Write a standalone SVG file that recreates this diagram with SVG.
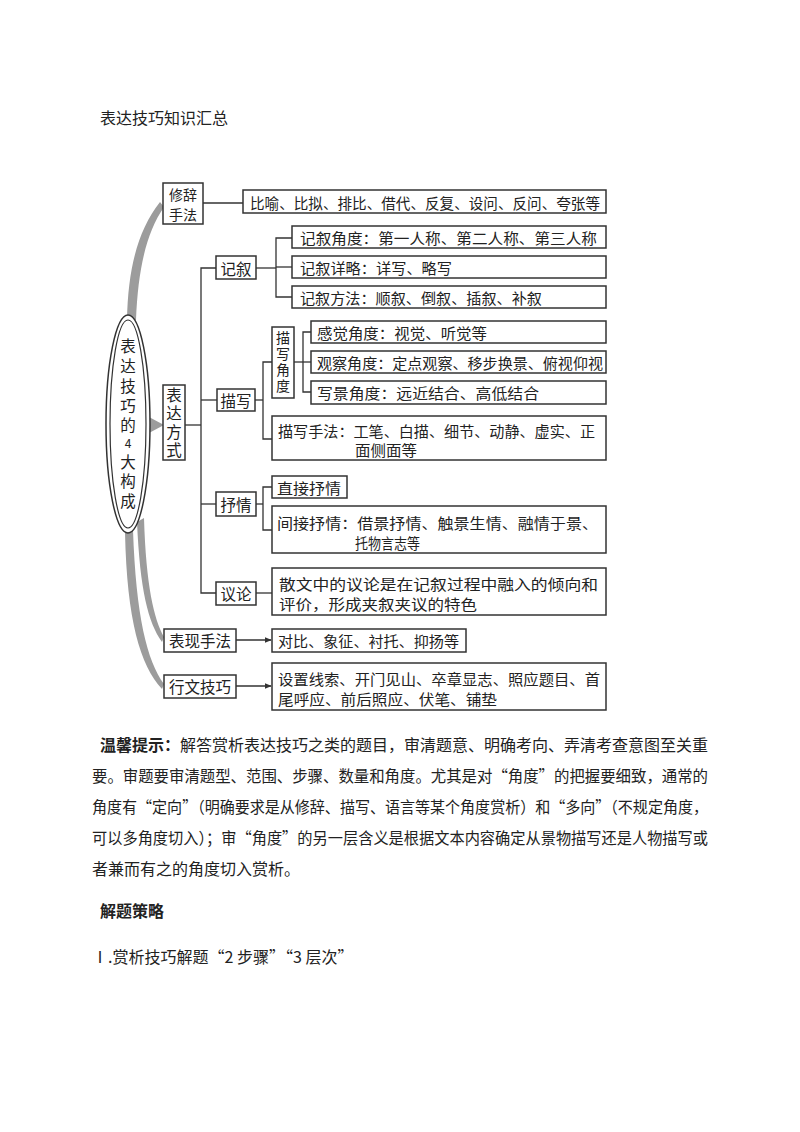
<svg xmlns="http://www.w3.org/2000/svg" width="800" height="1132" viewBox="0 0 800 1132">
<defs>
<style>
text{font-family:"Noto Sans CJK SC","Liberation Serif",serif;fill:#222;}
.t{font-size:14.5px;dominant-baseline:central;}
.lb{font-size:15.5px;dominant-baseline:central;text-anchor:middle;}
.vt{font-size:14px;writing-mode:vertical-rl;text-anchor:middle;letter-spacing:2px;}
.vt2{font-size:15.5px;writing-mode:vertical-rl;text-anchor:middle;letter-spacing:3px;}
.vt3{font-size:15.5px;writing-mode:vertical-rl;text-orientation:upright;text-anchor:middle;letter-spacing:4.3px;}
.box{fill:#fff;stroke:#333;stroke-width:1.5;}
.ln{fill:none;stroke:#333;stroke-width:1.3;}
.gray{fill:#9c9c9c;stroke:none;}
.p{font-size:16px;}
.b{font-weight:bold;}
</style>
<marker id="ah" viewBox="0 0 10 10" refX="9" refY="5" markerWidth="7" markerHeight="7" orient="auto" markerUnits="userSpaceOnUse">
<path d="M0,1 L10,5 L0,9 Z" fill="#333"/>
</marker>
</defs>
<rect width="800" height="1132" fill="#fff"/>
<text class="p" x="100" y="124">表达技巧知识汇总</text>

<g id="branches-gray">
<path class="gray" d="M127 320 C128 268 138 230 160 202 L164 207 C146 233 138 270 136 320 Z"/>
<path class="gray" d="M137 522 C140 590 148 622 162 642 L164 637 C154 619 146 586 144 518 Z"/>
<path class="gray" d="M125 533 C127 620 140 665 162 689 L164 684 C147 661 136 616 133 530 Z"/>
<path class="gray" d="M149 417 L164 425 L149 433 Z"/>
</g>

<g id="connectors">
<path class="ln" d="M203 203 H243"/>
<path class="ln" d="M185 425 H201"/>
<path class="ln" d="M216 268 H201 V593 H216"/>
<path class="ln" d="M201 400 H217"/>
<path class="ln" d="M201 504 H216"/>
<path class="ln" d="M256 268 H276"/>
<path class="ln" d="M292 238 H276 V297 H292"/>
<path class="ln" d="M276 267 H292"/>
<path class="ln" d="M255 400 H263"/>
<path class="ln" d="M272 362 H263 V439 H272"/>
<path class="ln" d="M294 362 H311"/>
<path class="ln" d="M311 332 H303 V392 H311"/>
<path class="ln" d="M256 504 H263"/>
<path class="ln" d="M272 487 H263 V530 H272"/>
<path class="ln" d="M256 593 H272"/>
<path class="ln" d="M236 640 H271" marker-end="url(#ah)"/>
<path class="ln" d="M236 686 H271" marker-end="url(#ah)"/>
</g>

<g id="core">
<ellipse cx="128" cy="424" rx="22" ry="109" fill="#fff" stroke="#333" stroke-width="1.5"/>
<ellipse cx="128" cy="424" rx="18" ry="104" fill="none" stroke="#333" stroke-width="1.2"/>
<text class="vt3" x="128" y="426">表达技巧的<tspan style="font-size:12px">4</tspan>大构成</text>
</g>

<g id="xiuci">
<rect class="box" x="163" y="183" width="40" height="41"/>
<text class="lb" x="183" y="193.5" style="font-size:14px">修辞</text>
<text class="lb" x="183" y="214" style="font-size:14px">手法</text>
</g>
<g id="xiuci-list">
<rect class="box" x="243" y="190" width="363" height="23"/>
<text class="t" x="250" y="202" textLength="350" lengthAdjust="spacingAndGlyphs">比喻、比拟、排比、借代、反复、设问、反问、夸张等</text>
</g>

<g id="biaodafangshi">
<rect class="box" x="163" y="385" width="22" height="75"/>
<text class="vt2" x="174" y="424">表达方式</text>
</g>

<g id="jixu">
<rect class="box" x="216" y="256" width="40" height="23"/>
<text class="lb" x="236" y="268">记叙</text>
</g>
<g id="jixu-jiaodu">
<rect class="box" x="292" y="226" width="314" height="22"/>
<text class="t" x="300" y="237" textLength="297" lengthAdjust="spacingAndGlyphs">记叙角度：第一人称、第二人称、第三人称</text>
</g>
<g id="jixu-xianglue">
<rect class="box" x="292" y="256" width="314" height="22"/>
<text class="t" x="300" y="267" textLength="152" lengthAdjust="spacingAndGlyphs">记叙详略：详写、略写</text>
</g>
<g id="jixu-fangfa">
<rect class="box" x="292" y="286" width="314" height="22"/>
<text class="t" x="300" y="297" textLength="242" lengthAdjust="spacingAndGlyphs">记叙方法：顺叙、倒叙、插叙、补叙</text>
</g>

<g id="miaoxie">
<rect class="box" x="217" y="389" width="38" height="22"/>
<text class="lb" x="236" y="400">描写</text>
</g>
<g id="miaoxie-jiaodu">
<rect class="box" x="272" y="327" width="22" height="71"/>
<text class="vt" x="283" y="363">描写角度</text>
</g>
<g id="ganjue">
<rect class="box" x="311" y="321" width="295" height="22"/>
<text class="t" x="317" y="332" textLength="170" lengthAdjust="spacingAndGlyphs">感觉角度：视觉、听觉等</text>
</g>
<g id="guancha">
<rect class="box" x="311" y="351" width="295" height="22"/>
<text class="t" x="317" y="362" textLength="286" lengthAdjust="spacingAndGlyphs">观察角度：定点观察、移步换景、俯视仰视</text>
</g>
<g id="xiejing">
<rect class="box" x="311" y="381" width="295" height="23"/>
<text class="t" x="317" y="392" textLength="222" lengthAdjust="spacingAndGlyphs">写景角度：远近结合、高低结合</text>
</g>
<g id="miaoxie-shoufa">
<rect class="box" x="272" y="416" width="334" height="44"/>
<text class="t" x="278" y="430" textLength="317" lengthAdjust="spacingAndGlyphs">描写手法：工笔、白描、细节、动静、虚实、正</text>
<text class="t" x="355" y="449" textLength="62" lengthAdjust="spacingAndGlyphs">面侧面等</text>
</g>

<g id="shuqing">
<rect class="box" x="216" y="492" width="40" height="24"/>
<text class="lb" x="236" y="504">抒情</text>
</g>
<g id="zhijie">
<rect class="box" x="272" y="476" width="75" height="22"/>
<text class="t" x="277" y="487" textLength="64" lengthAdjust="spacingAndGlyphs">直接抒情</text>
</g>
<g id="jianjie">
<rect class="box" x="272" y="506" width="334" height="47"/>
<text class="t" x="277" y="522" textLength="321" lengthAdjust="spacingAndGlyphs">间接抒情：借景抒情、触景生情、融情于景、</text>
<text class="t" x="355" y="542" textLength="65" lengthAdjust="spacingAndGlyphs">托物言志等</text>
</g>

<g id="yilun">
<rect class="box" x="216" y="582" width="40" height="23"/>
<text class="lb" x="236" y="593">议论</text>
</g>
<g id="yilun-desc">
<rect class="box" x="272" y="568" width="334" height="47"/>
<text class="t" x="279" y="583" textLength="319" lengthAdjust="spacingAndGlyphs">散文中的议论是在记叙过程中融入的倾向和</text>
<text class="t" x="279" y="603" textLength="198" lengthAdjust="spacingAndGlyphs">评价，形成夹叙夹议的特色</text>
</g>

<g id="biaoxian">
<rect class="box" x="164" y="629" width="72" height="23"/>
<text class="lb" x="200" y="640">表现手法</text>
</g>
<g id="biaoxian-list">
<rect class="box" x="272" y="629" width="194" height="23"/>
<text class="t" x="278" y="640" textLength="181" lengthAdjust="spacingAndGlyphs">对比、象征、衬托、抑扬等</text>
</g>

<g id="xingwen">
<rect class="box" x="164" y="675" width="72" height="23"/>
<text class="lb" x="200" y="686">行文技巧</text>
</g>
<g id="xingwen-list">
<rect class="box" x="272" y="663" width="334" height="47"/>
<text class="t" x="278" y="678" textLength="322" lengthAdjust="spacingAndGlyphs">设置线索、开门见山、卒章显志、照应题目、首</text>
<text class="t" x="278" y="698" textLength="219" lengthAdjust="spacingAndGlyphs">尾呼应、前后照应、伏笔、铺垫</text>
</g>

<g id="tips">
<text class="p" x="100" y="751" textLength="608" lengthAdjust="spacingAndGlyphs"><tspan class="b">温馨提示：</tspan>解答赏析表达技巧之类的题目，审清题意、明确考向、弄清考查意图至关重</text>
<text class="p" x="92" y="782" textLength="616" lengthAdjust="spacingAndGlyphs">要。审题要审清题型、范围、步骤、数量和角度。尤其是对“角度”的把握要细致，通常的</text>
<text class="p" x="92" y="813" textLength="616" lengthAdjust="spacingAndGlyphs">角度有“定向”（明确要求是从修辞、描写、语言等某个角度赏析）和“多向”（不规定角度，</text>
<text class="p" x="92" y="844" textLength="616" lengthAdjust="spacingAndGlyphs">可以多角度切入）；审“角度”的另一层含义是根据文本内容确定从景物描写还是人物描写或</text>
<text class="p" x="92" y="875">者兼而有之的角度切入赏析。</text>
<text class="p b" x="100" y="917">解题策略</text>
<text class="p" x="92" y="963">Ⅰ.赏析技巧解题“2 步骤”“3 层次”</text>
</g>
</svg>
